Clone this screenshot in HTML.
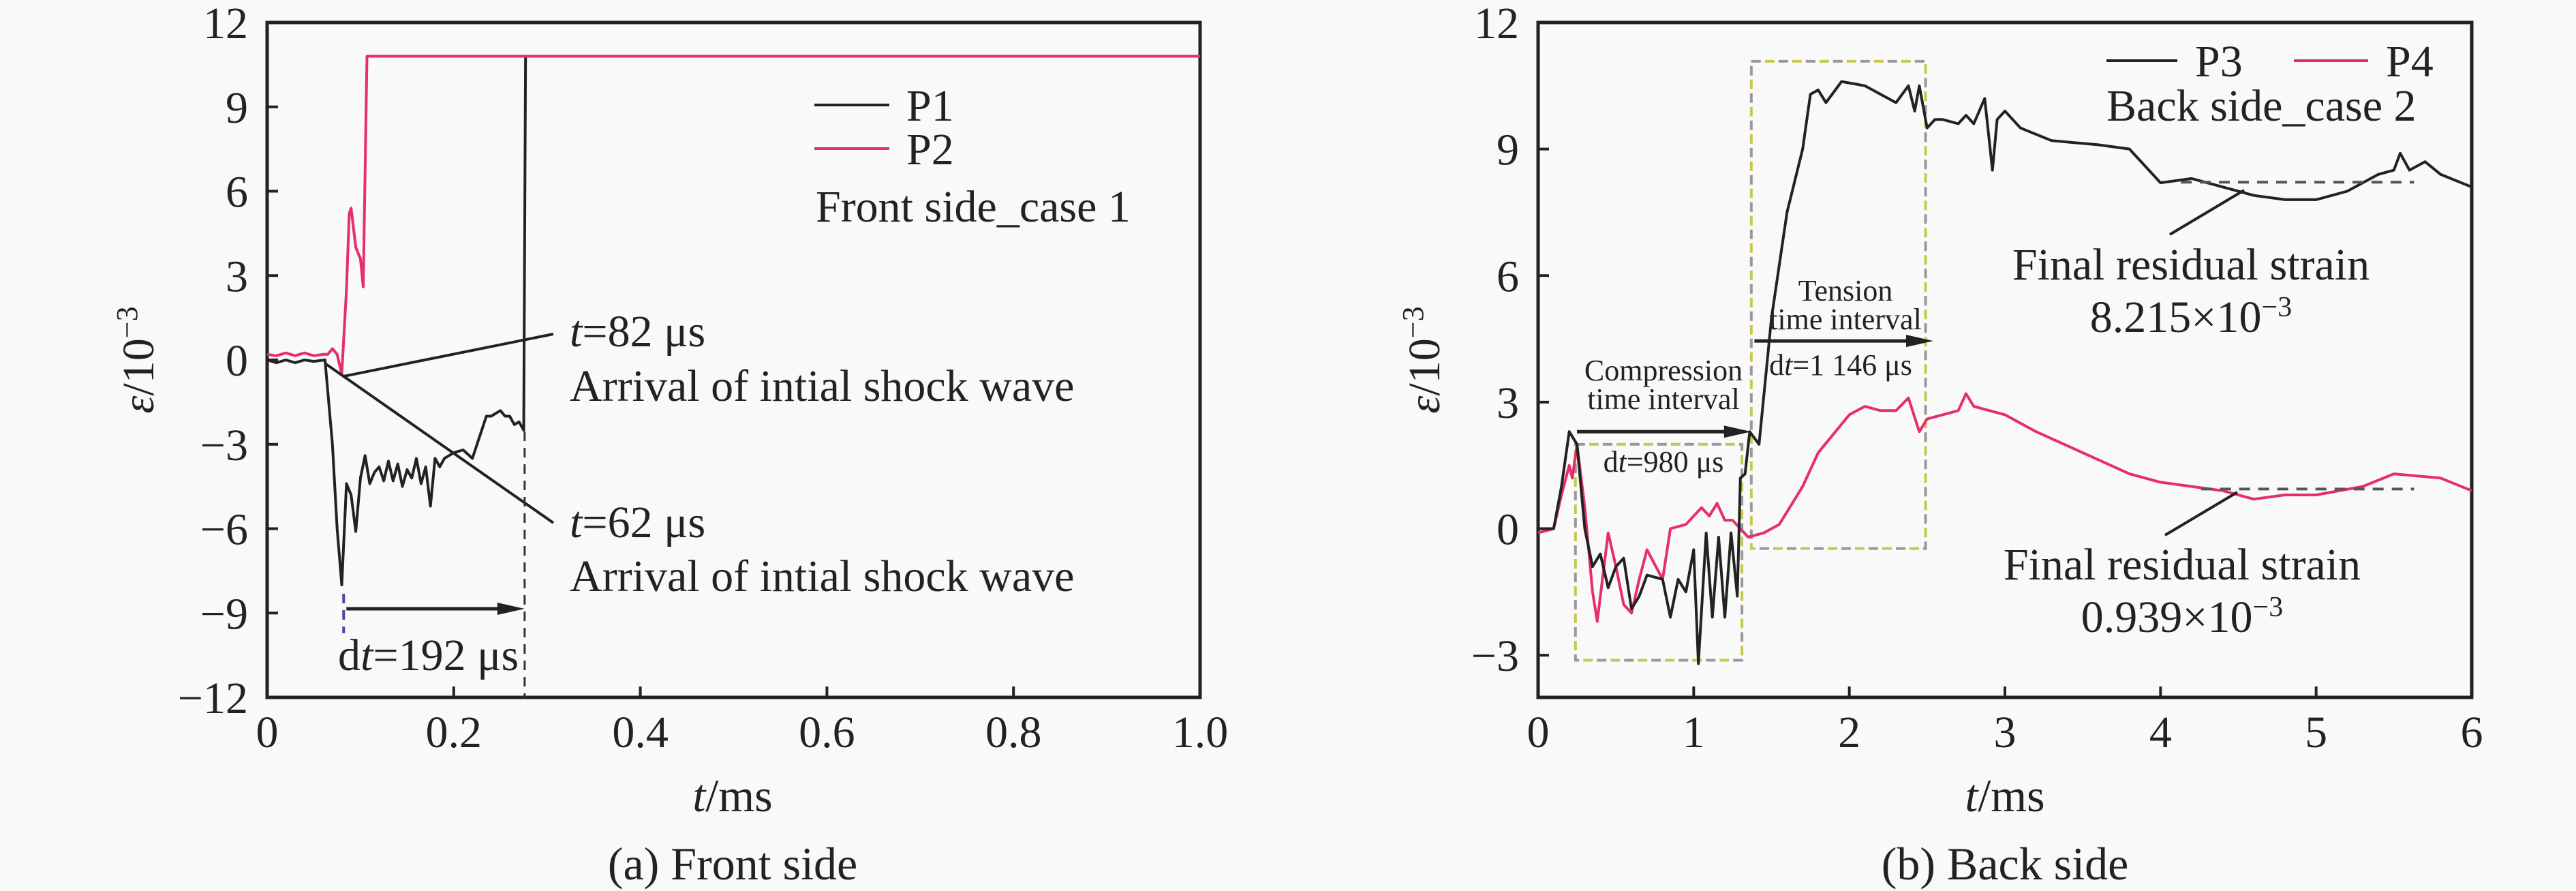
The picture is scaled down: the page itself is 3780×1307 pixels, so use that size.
<!DOCTYPE html>
<html><head><meta charset="utf-8"><style>
html,body{margin:0;padding:0;background:#f9f9f9;}
svg{display:block;font-family:"Liberation Serif",serif;}
</style></head><body>
<svg id="s" width="3780" height="1307" xmlns="http://www.w3.org/2000/svg">
<rect width="3780" height="1307" fill="#f9f9f9"/>
<g id="gA"></g>
<g id="gB"></g>
</svg>
<script>
// ---- Chart A data ----
const aXTicks=[0,0.2,0.4,0.6,0.8,1.0];
const aXTickLabels=["0","0.2","0.4","0.6","0.8","1.0"];
const aYTicks=[-12,-9,-6,-3,0,3,6,9,12];
const aYTickLabels=["\u221212","\u22129","\u22126","\u22123","0","3","6","9","12"];
const p1T=[0,0.01,0.02,0.03,0.04,0.05,0.062,0.07,0.075,0.08,0.085,0.09,0.095,0.1,0.105,0.11,0.115,0.12,0.125,0.13,0.135,0.14,0.145,0.15,0.155,0.16,0.165,0.17,0.175,0.18,0.185,0.19,0.2,0.21,0.22,0.225,0.235,0.24,0.25,0.255,0.26,0.265,0.27,0.275,0.277,0.28,1.0];
const p1V=[0,-0.1,0,-0.1,0,-0.05,0,-3,-6,-8,-4.4,-4.8,-6.1,-4.2,-3.4,-4.4,-4,-3.8,-4.3,-3.6,-4.3,-3.7,-4.5,-3.9,-4.2,-3.5,-4.4,-3.8,-5.2,-3.5,-3.8,-3.5,-3.3,-3.2,-3.5,-3,-2,-2,-1.8,-2,-2,-2.3,-2.2,-2.5,10.8,10.8,10.8];
const p2T=[0,0.01,0.02,0.03,0.04,0.05,0.06,0.065,0.07,0.075,0.08,0.085,0.088,0.09,0.095,0.1,0.103,0.107,0.11,1.0];
const p2V=[0.2,0.15,0.25,0.15,0.25,0.15,0.2,0.2,0.4,0.2,-0.5,2.5,5.2,5.4,4,3.6,2.6,10.8,10.8,10.8];
// ---- Chart B data ----
const bXTicks=[0,1,2,3,4,5,6];
const bXTickLabels=["0","1","2","3","4","5","6"];
const bYTicks=[-3,0,3,6,9,12];
const bYTickLabels=["\u22123","0","3","6","9","12"];
const p3T=[0,0.1,0.15,0.2,0.25,0.3,0.35,0.4,0.45,0.5,0.55,0.6,0.65,0.7,0.8,0.85,0.9,0.95,1.0,1.03,1.08,1.12,1.16,1.2,1.24,1.28,1.3,1.33,1.36,1.42,1.5,1.6,1.7,1.75,1.8,1.85,1.95,2.1,2.3,2.38,2.42,2.45,2.5,2.55,2.6,2.7,2.75,2.8,2.87,2.92,2.95,3.0,3.1,3.3,3.6,3.8,4.0,4.2,4.4,4.6,4.8,5.0,5.2,5.4,5.5,5.54,5.6,5.7,5.8,6.0];
const p3V=[0,0,1.0,2.3,2.0,0,-0.9,-0.6,-1.4,-0.9,-0.7,-1.9,-1.6,-1.1,-1.2,-2.1,-1.2,-1.5,-0.5,-3.2,-0.1,-2.1,-0.2,-2.1,-0.1,-1.6,1.2,1.3,2.3,2.0,5,7.5,9.0,10.3,10.4,10.1,10.6,10.5,10.1,10.5,9.9,10.5,9.5,9.7,9.7,9.6,9.8,9.6,10.2,8.5,9.7,9.9,9.5,9.2,9.1,9.0,8.2,8.3,8.1,7.9,7.8,7.8,8.0,8.4,8.5,8.9,8.5,8.7,8.4,8.1];
const p4T=[0,0.1,0.15,0.2,0.22,0.25,0.3,0.35,0.38,0.42,0.45,0.5,0.55,0.6,0.65,0.7,0.8,0.85,0.95,1.05,1.1,1.15,1.2,1.25,1.3,1.35,1.45,1.55,1.7,1.8,2.0,2.1,2.2,2.3,2.38,2.45,2.5,2.6,2.7,2.75,2.8,3.0,3.2,3.5,3.8,4.0,4.2,4.4,4.6,4.8,5.0,5.3,5.5,5.8,6.0];
const p4V=[-0.1,0,0.8,1.5,1.2,2.0,0.5,-1.5,-2.2,-1.0,-0.1,-0.9,-1.8,-2.0,-1.2,-0.5,-1.2,0,0.1,0.5,0.3,0.6,0.2,0.2,0,-0.2,-0.1,0.1,1.0,1.8,2.7,2.9,2.8,2.8,3.1,2.3,2.6,2.7,2.8,3.2,2.9,2.7,2.3,1.8,1.3,1.1,1.0,0.9,0.7,0.8,0.8,1.0,1.3,1.2,0.9];
const residualTop=8.215, residualBottom=0.939;

const NS="http://www.w3.org/2000/svg";
function mk(parent,tag,attrs,text){const e=document.createElementNS(NS,tag);for(const k in attrs)e.setAttribute(k,attrs[k]);if(text!==undefined)e.textContent=text;parent.appendChild(e);return e;}
const PINK="#e62e6b";

function axes(g,L,R,T,B,xmin,xmax,ymin,ymax,xt,xtl,yt,ytl){
  const sx=v=>L+(v-xmin)/(xmax-xmin)*(R-L);
  const sy=v=>B-(v-ymin)/(ymax-ymin)*(B-T);
  const fr=mk(g,'rect',{x:L,y:T,width:R-L,height:B-T,fill:'none',stroke:'#222','stroke-width':5});
  
  xt.forEach((v,i)=>{
    const l=mk(g,'line',{x1:sx(v),x2:sx(v),y1:B,y2:B-16,stroke:'#222','stroke-width':4});
    
    const t=mk(g,'text',{x:sx(v),y:B+73,'font-size':66,'text-anchor':'middle',fill:'#222'},xtl[i]);
    
  });
  yt.forEach((v,i)=>{
    const l=mk(g,'line',{x1:L,x2:L+16,y1:sy(v),y2:sy(v),stroke:'#222','stroke-width':4});
    
    const t=mk(g,'text',{x:L-28,y:sy(v)+23,'font-size':66,'text-anchor':'end',fill:'#222'},ytl[i]);
    
  });
  return [sx,sy];
}
function series(g,T,V,sx,sy,color,w,name){
  const d=T.map((t,i)=>(i?'L':'M')+sx(t).toFixed(1)+' '+sy(V[i]).toFixed(1)).join(' ');
  const p=mk(g,'path',{d:d,fill:'none',stroke:color,'stroke-width':w,'stroke-linejoin':'round'});
  
  return p;
}
function txt(g,x,y,size,s,anchor,name){
  const t=mk(g,'text',{x:x,y:y,'font-size':size,'text-anchor':anchor||'start',fill:'#222'});
  t.innerHTML=s;
  
  return t;
}
function ln(g,x1,y1,x2,y2,color,w,dash,name){
  const a={x1:x1,y1:y1,x2:x2,y2:y2,stroke:color,'stroke-width':w};if(dash)a['stroke-dasharray']=dash;
  const l=mk(g,'line',a);return l;
}
function arrow(g,x1,y,x2,name){
  ln(g,x1,y,x2-30,y,'#222',5,null,name);
  const p=mk(g,'path',{d:`M${x2} ${y} L${x2-40} ${y-9} L${x2-40} ${y+9} Z`,fill:'#222'});
  
}

// ---------- Chart A ----------
const gA=document.getElementById('gA');
const [ax,ay]=axes(gA,392,1761,33,1023,0,1,-12,12,aXTicks,aXTickLabels,aYTicks,aYTickLabels);
series(gA,p1T,p1V,ax,ay,'#222',4,'series-p1');
series(gA,p2T,p2V,ax,ay,PINK,4,'series-p2');
const yt=txt(gA,0,0,66,'<tspan font-style="italic">ε</tspan>/10<tspan baseline-shift="super" font-size="44">−3</tspan>','middle','y-axis-title');
yt.setAttribute('transform','translate(225 528) rotate(-90)');
txt(gA,1075,1190,68,'<tspan font-style="italic">t</tspan>/ms','middle','x-axis-title');
txt(gA,1075,1290,68,'(a) Front side','middle','caption-a');
ln(gA,1195,154,1305,154,'#222',4,null,'legend-p1-line');
txt(gA,1330,177,66,'P1','start','legend-p1-label');
ln(gA,1195,218,1305,218,PINK,4,null,'legend-p2-line');
txt(gA,1330,241,66,'P2','start','legend-p2-label');
txt(gA,1197,325,66,'Front side_case 1','start','legend-case-label');
ln(gA,ax(0.082),552,812,490,'#222',4,null,'leader-82us');
ln(gA,ax(0.062),533,812,767,'#222',4,null,'leader-62us');
txt(gA,836,508,66,'<tspan font-style="italic">t</tspan>=82 μs','start','annot-t82');
txt(gA,836,588,66,'Arrival of intial shock wave','start','annot-arrival-1');
txt(gA,836,788,66,'<tspan font-style="italic">t</tspan>=62 μs','start','annot-t62');
txt(gA,836,867,66,'Arrival of intial shock wave','start','annot-arrival-2');
ln(gA,ax(0.082),871,ax(0.082),929,'#4a4aa0',4,'14 10','dt-start-marker');
ln(gA,ax(0.276),633,ax(0.276),1023,'#333',3,'14 10','dt-end-marker');
arrow(gA,ax(0.082)+4,893,ax(0.276),'dt-arrow');
txt(gA,496,983,66,'d<tspan font-style="italic">t</tspan>=192 μs','start','annot-dt192');

// ---------- Chart B ----------
const gB=document.getElementById('gB');
const [bx,by]=axes(gB,2257,3627,33,1023,0,6,-4,12,bXTicks,bXTickLabels,bYTicks,bYTickLabels);
function box(x1,x2,y1,y2,name){
  const r=mk(gB,'rect',{x:bx(x1),y:by(y1),width:bx(x2)-bx(x1),height:by(y2)-by(y1),fill:'none',stroke:'#999','stroke-width':4,'stroke-dasharray':'14 26'});
  
  const r2=mk(gB,'rect',{x:bx(x1),y:by(y1),width:bx(x2)-bx(x1),height:by(y2)-by(y1),fill:'none',stroke:'#c8c850','stroke-width':4,'stroke-dasharray':'14 26','stroke-dashoffset':20});
  
}
box(0.24,1.31,2.0,-3.12,'compression-box');
box(1.37,2.49,11.08,-0.47,'tension-box');
series(gB,p4T,p4V,bx,by,PINK,4,'series-p4');
series(gB,p3T,p3V,bx,by,'#222',4,'series-p3');
arrow(gB,bx(0.25),by(2.3),bx(1.37),'compression-arrow');
arrow(gB,bx(1.39),by(4.45),bx(2.54),'tension-arrow');
txt(gB,2441,558,44,'Compression','middle','annot-compression-1');
txt(gB,2441,600,44,'time interval','middle','annot-compression-2');
txt(gB,2441,692,44,'d<tspan font-style="italic">t</tspan>=980 μs','middle','annot-dt980');
txt(gB,2708,441,44,'Tension','middle','annot-tension-1');
txt(gB,2708,483,44,'time interval','middle','annot-tension-2');
txt(gB,2701,550,44,'d<tspan font-style="italic">t</tspan>=1 146 μs','middle','annot-dt1146');
ln(gB,bx(4.13),by(residualTop),bx(5.63),by(residualTop),'#555',4,'16 12','residual-line-p3');
ln(gB,bx(4.26),by(residualBottom),bx(5.63),by(residualBottom),'#555',4,'16 12','residual-line-p4');
ln(gB,3184,344,3293,279,'#222',4,null,'leader-residual-top');
ln(gB,3177,785,3283,722,'#222',4,null,'leader-residual-bottom');
txt(gB,3215,410,66,'Final residual strain','middle','annot-residual-top');
txt(gB,3215,487,66,'8.215×10<tspan baseline-shift="super" font-size="42">−3</tspan>','middle','annot-residual-top-value');
txt(gB,3202,850,66,'Final residual strain','middle','annot-residual-bottom');
txt(gB,3202,927,66,'0.939×10<tspan baseline-shift="super" font-size="42">−3</tspan>','middle','annot-residual-bottom-value');
ln(gB,3091,89,3195,89,'#222',4,null,'legend-p3-line');
txt(gB,3221,112,66,'P3','start','legend-p3-label');
ln(gB,3366,89,3475,89,PINK,4,null,'legend-p4-line');
txt(gB,3501,112,66,'P4','start','legend-p4-label');
txt(gB,3091,177,66,'Back side_case 2','start','legend-case-label-b');
const yt2=txt(gB,0,0,66,'<tspan font-style="italic">ε</tspan>/10<tspan baseline-shift="super" font-size="44">−3</tspan>','middle','y-axis-title-b');
yt2.setAttribute('transform','translate(2112 528) rotate(-90)');
txt(gB,2942,1190,68,'<tspan font-style="italic">t</tspan>/ms','middle','x-axis-title-b');
txt(gB,2942,1290,68,'(b) Back side','middle','caption-b');
</script>
</body></html>
